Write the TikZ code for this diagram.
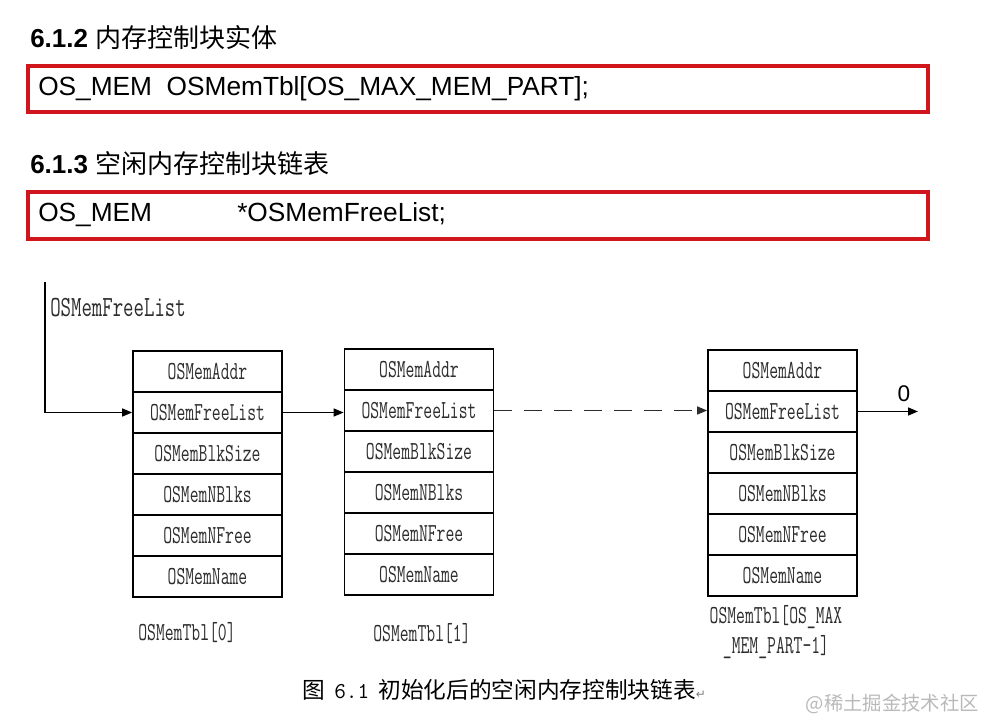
\documentclass[tikz,border=0pt]{standalone}
\usepackage{fontspec}
\setmainfont{Liberation Sans}
\newfontfamily\cjk{Noto Sans CJK SC}
\newfontfamily\symfont{DejaVu Sans}
\usepackage{graphicx}
\usetikzlibrary{arrows.meta}
\definecolor{boxred}{RGB}{208,22,28}
\definecolor{ink}{RGB}{45,45,45}
\definecolor{wm}{RGB}{185,185,185}
\newcommand\nar[2][0.66]{\scalebox{#1}[1]{#2}}
\begin{document}
\begin{tikzpicture}[x=0.75pt,y=-0.75pt,
  cell/.style={draw=black, line width=1.3pt, minimum width=111.75pt, minimum height=30.75pt, inner sep=0pt, text=ink, font=\fontsize{19.5}{22}\selectfont\ttfamily},
  codebox/.style={draw=boxred, line width=2.4pt},
  heading/.style={anchor=west, inner sep=0pt, font=\fontsize{19.5}{22}\selectfont\bfseries},
  code/.style={anchor=west, inner sep=0pt, font=\fontsize{19.7}{22}\selectfont, text=black},
  lbl/.style={inner sep=0pt, text=ink, font=\fontsize{19.5}{22.5}\selectfont\ttfamily},
  arr/.style={line width=1.1pt, -{Triangle[length=7.5pt,width=6pt]}},
]
\useasboundingbox (0,0) rectangle (985,720);

% headings and code boxes
\node[heading] (h1) at (30,38) {6.1.2 {\mdseries\cjk 内存控制块实体}};
\draw[codebox] (28,66) rectangle (928,112);
\node[code] (c1) at (38,89) {OS\_MEM\ \ OSMemTbl[OS\_MAX\_MEM\_PART];};

\node[heading] (h2) at (30,164) {6.1.3 {\mdseries\cjk 空闲内存控制块链表}};
\draw[codebox] (28,192) rectangle (928,239);
\node[code] (c2) at (38,215) {\makebox[149.25pt][l]{OS\_MEM}*OSMemFreeList;};

% memory control blocks
\foreach \t [count=\i] in {OSMemAddr,OSMemFreeList,OSMemBlkSize,OSMemNBlks,OSMemNFree,OSMemName}{
  \node[cell] (a\i) at (207.5,{330.5+41*\i}) {\nar{\t}};
  \node[cell] (b\i) at (419,{328.5+41*\i}) {\nar{\t}};
  \node[cell] (c\i) at (782.5,{329.5+41*\i}) {\nar{\t}};
}

% labels
\node[lbl, anchor=west] (fll) at (50,308) {\nar[0.69]{\fontsize{22}{24}\selectfont OSMemFreeList}};
\node[lbl] (la) at (187,633) {\nar{OSMemTbl[0]}};
\node[lbl] (lb) at (422,634) {\nar{OSMemTbl[1]}};
\node[lbl, align=center] (lc) at (776,632) {\nar{OSMemTbl[OS\_MAX}\\\nar{\_MEM\_PART-1]}};

% connectors
\coordinate (fl) at (45,282);
\draw[arr] (fl) |- (a2.west);
\draw[arr] (a2.east) -- (a2.east -| b2.west);
\draw[arr, draw=ink, dash pattern=on 13.5pt off 9pt] (b2.east) -- (b2.east -| c2.west);
\coordinate (nil) at (918,411.5);
\draw[arr] (c2.east) -- (nil);
\node[inner sep=0pt, font=\fontsize{17}{18}\selectfont] (zero) at (904,394) {0};

% caption and watermark
\node[anchor=west, inner sep=0pt, font=\fontsize{17}{20}\selectfont, text=black] (cap) at (302,690)
  {{\cjk 图}\hspace{7pt}{\ttfamily 6.1}\hspace{7pt}{\cjk 初始化后的空闲内存控制块链表}{\symfont\fontsize{9}{10}\selectfont\color{gray}↵}};
\node[anchor=east, inner sep=0pt, font=\fontsize{14.5}{16}\selectfont\cjk, text=wm] (wmk) at (979,704) {@稀土掘金技术社区};
\end{tikzpicture}
\end{document}
